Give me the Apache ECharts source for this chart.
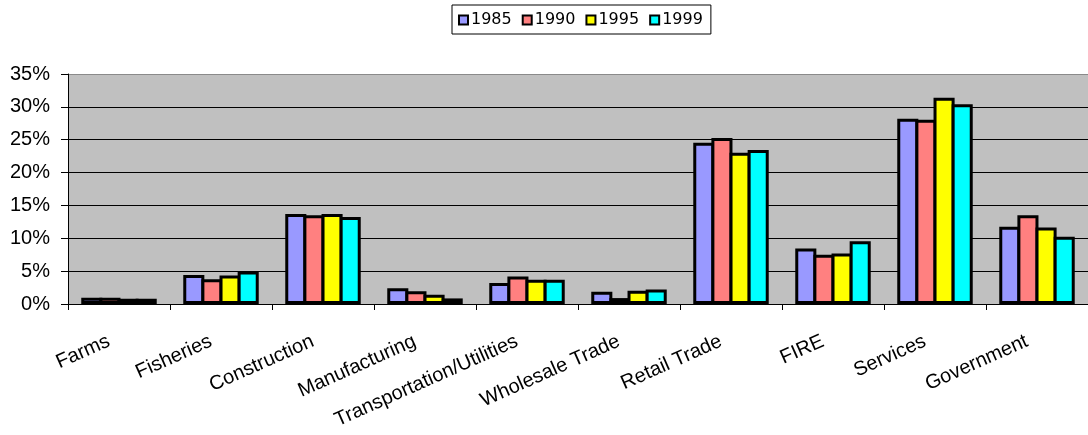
<!DOCTYPE html>
<html>
<head>
<meta charset="utf-8">
<title>Employment share by industry</title>
<script src="https://cdn.jsdelivr.net/npm/echarts@6/dist/echarts.min.js"></script>
<style>
  html, body { margin: 0; padding: 0; background: #fff; }
  #chart { width: 1088px; height: 435px; }
</style>
</head>
<body>
<div id="chart"></div>
<script>
// categories + values (percent)
var industries = ['Farms', 'Fisheries', 'Construction', 'Manufacturing', 'Transportation/Utilities',
  'Wholesale Trade', 'Retail Trade', 'FIRE', 'Services', 'Government'];
var years = ['1985', '1990', '1995', '1999'];

var share1985 = [0.95, 4.4, 13.7, 2.4, 3.2, 1.85, 24.55, 8.45, 28.2, 11.75];
var share1990 = [0.95, 3.75, 13.5, 1.95, 4.2, 0.9, 25.25, 7.5, 28.05, 13.5];
var share1995 = [0.8, 4.35, 13.7, 1.4, 3.7, 2.0, 23.0, 7.7, 31.4, 11.65];
var share1999 = [0.8, 4.95, 13.25, 0.85, 3.7, 2.2, 23.45, 9.55, 30.4, 10.25];

var yTicks = [0, 5, 10, 15, 20, 25, 30, 35];

var barColors = ['#9999FF', '#FF8080', '#FFFF00', '#00FFFF'];
var allShares = [share1985, share1990, share1995, share1999];

var chart = echarts.init(document.getElementById('chart'));

// one bar series per year, neighbours share their black edge
var series = [];
for (var i = 0; i < years.length; i++) {
  series.push({
    name: years[i],
    type: 'bar',
    data: allShares[i],
    barGap: '-14%',
    barCategoryGap: '26%',
    itemStyle: {
      color: barColors[i],
      borderColor: '#000',
      borderWidth: 3
    },
    emphasis: { disabled: true }
  });
}

var option = {
  animation: false,
  textStyle: { fontFamily: 'Liberation Sans, Arial, sans-serif' },
  legend: {
    data: years,
    left: 452,
    top: 5,
    padding: [7, 8, 6, 6],
    itemGap: 10,
    itemWidth: 9,
    itemHeight: 9,
    icon: 'rect',
    borderColor: '#000',
    borderWidth: 1,
    backgroundColor: '#fff',
    itemStyle: { borderColor: '#000', borderWidth: 2 },
    textStyle: {
      fontFamily: 'DejaVu Sans, sans-serif',
      fontSize: 16,
      color: '#000',
      padding: [0, 0, 0, -2]
    }
  },
  grid: {
    left: 68,
    right: -7,
    top: 74,
    bottom: 131,
    show: true,
    backgroundColor: '#C0C0C0',
    borderWidth: 0
  },
  xAxis: {
    type: 'category',
    data: industries,
    axisLine: { lineStyle: { color: '#000', width: 1 } },
    axisTick: { show: true, length: 6, lineStyle: { color: '#000' } },
    axisLabel: {
      rotate: 24,
      margin: 32,
      padding: [0, 11, 0, 0],
      fontSize: 20,
      color: '#000',
      interval: 0
    }
  },
  yAxis: {
    type: 'value',
    min: yTicks[0],
    max: yTicks[yTicks.length - 1],
    interval: 5,
    axisLine: { show: true, lineStyle: { color: '#000', width: 1 } },
    axisTick: { show: true, length: 7, lineStyle: { color: '#000' } },
    axisLabel: {
      formatter: '{value}%',
      fontSize: 20,
      color: '#000',
      margin: 18
    },
    splitLine: {
      show: true,
      // last one is the grey plot-area border at the top
      lineStyle: { color: ['#000', '#000', '#000', '#000', '#000', '#000', '#000', '#8a8a8a'], width: 1 }
    }
  },
  series: series
};

chart.setOption(option);
</script>
</body>
</html>
